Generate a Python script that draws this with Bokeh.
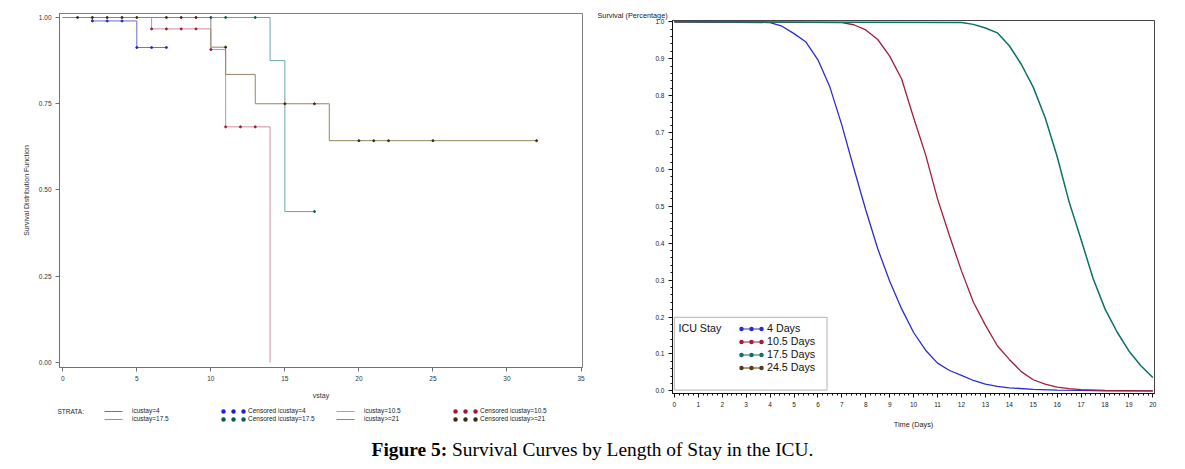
from bokeh.plotting import figure
from bokeh.models import (Range1d, Legend, LegendItem, Label, Div, FixedTicker,
                          SingleIntervalTicker, NumeralTickFormatter, BoxAnnotation)
from bokeh.layouts import row, column
from bokeh.embed import file_html
from bokeh.resources import INLINE

NaN = float("nan")

# ---------------- Left panel: Kaplan-Meier estimates ----------------
km4_t = [0, 2, 5, 7]
km4_s = [1.0, 0.99, 0.913, 0.913]
km175_t = [0, 14, 15, 17]
km175_s = [1.0, 0.875, 0.4375, 0.4375]
km105_t = [0, 6, 10, 11, 14]
km105_s = [1.0, 0.967, 0.907, 0.683, 0.0]
km21_t = [0, 10, 11, 13, 18, 32]
km21_s = [1.0, 0.914, 0.835, 0.75, 0.643, 0.643]

cens4_t = [2, 3, 4, 5, 6, 7]
cens4_s = [0.99, 0.99, 0.99, 0.913, 0.913, 0.913]
cens175_t = [10, 11, 13, 17]
cens175_s = [1.0, 1.0, 1.0, 0.4375]
cens105_t = [6, 7, 8, 9, 10, 11, 12, 13]
cens105_s = [0.967, 0.967, 0.967, 0.967, 0.907, 0.683, 0.683, 0.683]
cens21_t = [1, 2, 3, 4, 5, 7, 8, 9, 11, 15, 17, 20, 21, 22, 25, 32]
cens21_s = [1.0, 1.0, 1.0, 1.0, 1.0, 1.0, 1.0, 1.0, 0.914, 0.75, 0.75,
            0.643, 0.643, 0.643, 0.643, 0.643]

left_xticks = [0, 5, 10, 15, 20, 25, 30, 35]
left_yticks = [0.0, 0.25, 0.5, 0.75, 1.0]

# ---------------- Right panel: fitted survival curves ----------------
d4_t = [0, 4, 4.5, 5, 5.5, 6, 6.5, 7, 7.5, 8, 8.5, 9, 9.5, 10, 10.5, 11, 11.5,
        12, 12.5, 13, 13.5, 14, 15, 16, 17, 18, 20]
d4_s = [1.0, 0.998, 0.988, 0.968, 0.945, 0.897, 0.823, 0.72, 0.603, 0.49, 0.385,
        0.297, 0.222, 0.158, 0.11, 0.075, 0.055, 0.042, 0.028, 0.018, 0.012,
        0.008, 0.004, 0.002, 0.001, 0.0, 0.0]
d105_t = [0, 7, 7.5, 8, 8.5, 9, 9.5, 10, 10.5, 11, 11.5, 12, 12.5, 13, 13.5, 14,
          14.5, 15, 15.5, 16, 16.5, 17, 18, 20]
d105_s = [1.0, 0.998, 0.992, 0.978, 0.952, 0.907, 0.845, 0.74, 0.64, 0.52, 0.42,
          0.325, 0.24, 0.178, 0.122, 0.085, 0.052, 0.03, 0.018, 0.01, 0.006,
          0.003, 0.001, 0.0]
d175_t = [0, 12, 12.5, 13, 13.5, 14, 14.5, 15, 15.5, 16, 16.5, 17, 17.5, 18,
          18.5, 19, 19.5, 20]
d175_s = [1.0, 0.998, 0.993, 0.983, 0.97, 0.935, 0.885, 0.823, 0.74, 0.635,
          0.512, 0.41, 0.305, 0.222, 0.16, 0.108, 0.068, 0.036]

stay_labels = ["4 Days", "10.5 Days", "17.5 Days", "24.5 Days"]
stay_colors = ["#2b2bd6", "#a31d3a", "#0b7265", "#5b3a0f"]

SANS = "Liberation Sans"


def blank_fig(w, h):
    f = figure(width=w, height=h, output_backend="svg", toolbar_location=None,
               title=None, x_range=Range1d(0, w), y_range=Range1d(0, h),
               frame_align=False, min_border=0, min_border_left=0,
               min_border_right=0, min_border_top=0, min_border_bottom=0)
    f.axis.visible = False
    f.grid.visible = False
    f.outline_line_color = None
    return f


def dots(fig, col):
    # three round dots, inset from the glyph box edges
    return fig.line([NaN], [NaN], line_color=col, line_width=4.5,
                    line_dash="0 10", line_dash_offset=-3, line_cap="round")


def seg(fig, col, length, offset):
    return fig.line([NaN], [NaN], line_color=col, line_width=1,
                    line_dash=f"{length} 200", line_dash_offset=offset)


# =============== LEFT FIGURE ===============
left = figure(width=582, height=395, output_backend="svg", toolbar_location=None,
              x_range=Range1d(-0.22, 35.1), y_range=Range1d(-0.0145, 1.0116),
              frame_align=False,
              min_border_left=51, min_border_right=8, min_border_top=5,
              min_border_bottom=36)
left.grid.visible = False
left.outline_line_color = "#808080"

line_cols = {"4": "#6c6cd0", "17.5": "#68a6a6", "10.5": "#c8909e", "21": "#958563"}
dot_cols = {"4": "#2020d0", "17.5": "#0a5c52", "10.5": "#a01830", "21": "#3d2a10"}

left.step(km4_t, km4_s, mode="after", line_color=line_cols["4"], line_width=1)
left.step(km175_t, km175_s, mode="after", line_color=line_cols["17.5"], line_width=1)
left.step(km105_t, km105_s, mode="after", line_color=line_cols["10.5"], line_width=1)
left.step(km21_t, km21_s, mode="after", line_color=line_cols["21"], line_width=1)

left.scatter(cens4_t, cens4_s, size=2, color=dot_cols["4"])
left.scatter(cens175_t, cens175_s, size=2, color=dot_cols["17.5"])
left.scatter(cens105_t, cens105_s, size=2, color=dot_cols["10.5"])
left.scatter(cens21_t, cens21_s, size=2, color=dot_cols["21"])

for ax in (left.xaxis[0], left.yaxis[0]):
    ax.axis_line_color = "#707070"
    ax.major_tick_line_color = "#707070"
    ax.major_tick_out = 4
    ax.major_tick_in = 0
    ax.minor_tick_line_color = None
    ax.major_label_text_font = SANS
    ax.major_label_text_font_size = "6.5px"
    ax.major_label_text_color = "#333"
    ax.axis_label_text_font = SANS
    ax.axis_label_text_font_size = "7px"
    ax.axis_label_text_font_style = "normal"
    ax.axis_label_text_color = "#333"
    ax.major_label_standoff = 4

left.xaxis.ticker = FixedTicker(ticks=left_xticks)
left.yaxis.ticker = FixedTicker(ticks=left_yticks)
left.yaxis.formatter = NumeralTickFormatter(format="0.00")
left.xaxis.axis_label = "vstay"
left.yaxis.axis_label = "Survival Distribution Function"
left.xaxis.axis_label_standoff = 8
left.yaxis.axis_label_standoff = 6

# ---- left legend strip ----
lfig = blank_fig(582, 37)
lg4 = seg(lfig, line_cols["4"], 18, 0)
lg175 = seg(lfig, line_cols["17.5"], 18, 0)
lg105 = seg(lfig, line_cols["10.5"], 18, 0)
lg21 = seg(lfig, line_cols["21"], 18, 0)
ld4 = dots(lfig, dot_cols["4"])
ld175 = dots(lfig, dot_cols["17.5"])
ld105 = dots(lfig, dot_cols["10.5"])
ld21 = dots(lfig, dot_cols["21"])

left_items = [
    LegendItem(label="icustay=4", renderers=[lg4]),
    LegendItem(label="icustay=17.5", renderers=[lg175]),
    LegendItem(label="Censored icustay=4", renderers=[ld4]),
    LegendItem(label="Censored icustay=17.5", renderers=[ld175]),
    LegendItem(label="icustay=10.5", renderers=[lg105]),
    LegendItem(label="icustay>=21", renderers=[lg21]),
    LegendItem(label="Censored icustay=10.5", renderers=[ld105]),
    LegendItem(label="Censored icustay>=21", renderers=[ld21]),
]
lleg = Legend(items=left_items, orientation="vertical", nrows=2,
              location=(96, 17.5),
              label_text_font=SANS, label_text_font_size="6.5px", label_text_color="#222",
              glyph_width=26, glyph_height=8, label_height=8, label_width=88,
              label_standoff=2, spacing=0, padding=0, margin=0,
              border_line_color=None, background_fill_alpha=0)
lfig.add_layout(lleg, "center")
lfig.add_layout(Label(x=49, y=29.5, text="STRATA:", text_font=SANS,
                      text_font_size="6.5px", text_color="#222",
                      text_baseline="middle"))

# =============== RIGHT FIGURE ===============
right = figure(width=587, height=432, output_backend="svg", toolbar_location=None,
               x_range=Range1d(-0.08, 20.07), y_range=Range1d(-0.0073, 1.0035),
               frame_align=False,
               min_border_left=82, min_border_right=23, min_border_top=9,
               min_border_bottom=47)
right.grid.visible = False
right.outline_line_color = "#444"
right.title.text = "Survival (Percentage)"
right.title.align = "left"
right.title.offset = -75
right.title.standoff = 1
right.title.text_font = SANS
right.title.text_font_size = "7.3px"
right.title.text_font_style = "normal"
right.title.text_color = "#222"

right.line(d4_t, d4_s, line_color=stay_colors[0], line_width=1.3)
right.line(d105_t, d105_s, line_color=stay_colors[1], line_width=1.3)
right.line(d175_t, d175_s, line_color=stay_colors[2], line_width=1.5)

# legend frame
right.add_layout(BoxAnnotation(left=0.0, right=6.38, bottom=0.002, top=0.199,
                               fill_color="white", fill_alpha=1,
                               line_color="#333", line_width=1.2))
right.add_layout(Label(x=0.17, y=0.169, text="ICU Stay", text_font=SANS,
                       text_font_size="10.7px", text_color="#111",
                       text_baseline="middle"))

r_items = []
for name, col in zip(stay_labels, stay_colors):
    a = seg(right, col, 20, -3)
    b = dots(right, col)
    r_items.append(LegendItem(label=name, renderers=[a, b]))
rleg = Legend(items=r_items, location=(66, 19.5), label_text_font=SANS,
              label_text_font_size="10.7px", label_text_color="#111",
              glyph_width=26, glyph_height=13, label_height=13, label_standoff=3,
              spacing=0, padding=0, margin=0, border_line_color=None,
              background_fill_alpha=0)
right.add_layout(rleg, "center")

for ax in (right.xaxis[0], right.yaxis[0]):
    ax.axis_line_color = "#111"
    ax.major_tick_line_color = "#111"
    ax.minor_tick_line_color = "#111"
    ax.major_tick_out = 4
    ax.major_tick_in = 0
    ax.minor_tick_out = 2
    ax.minor_tick_in = 0
    ax.major_label_text_font = SANS
    ax.major_label_text_font_size = "6.5px"
    ax.major_label_text_color = "#222"
    ax.axis_label_text_font = SANS
    ax.axis_label_text_font_size = "7.3px"
    ax.axis_label_text_font_style = "normal"
    ax.axis_label_text_color = "#222"
    ax.major_label_standoff = 4

right.xaxis.ticker = SingleIntervalTicker(interval=1, num_minor_ticks=5)
right.yaxis.ticker = SingleIntervalTicker(interval=0.1, num_minor_ticks=5)
right.yaxis.formatter = NumeralTickFormatter(format="0.0")
right.xaxis.axis_label = "Time (Days)"
right.xaxis.axis_label_standoff = 10

caption = Div(text="<b>Figure 5:</b> Survival Curves by Length of Stay in the ICU.",
              width=1169, height=22, margin=0,
              styles={"font-family": "Liberation Serif", "font-size": "19.4px",
                      "text-align": "center", "line-height": "20px", "color": "#000"})

layout = column(row(column(left, lfig, spacing=0), right, spacing=0),
                caption, spacing=0, margin=(8, 0, 0, 8))
open("out.html", "w").write(file_html(layout, INLINE))
